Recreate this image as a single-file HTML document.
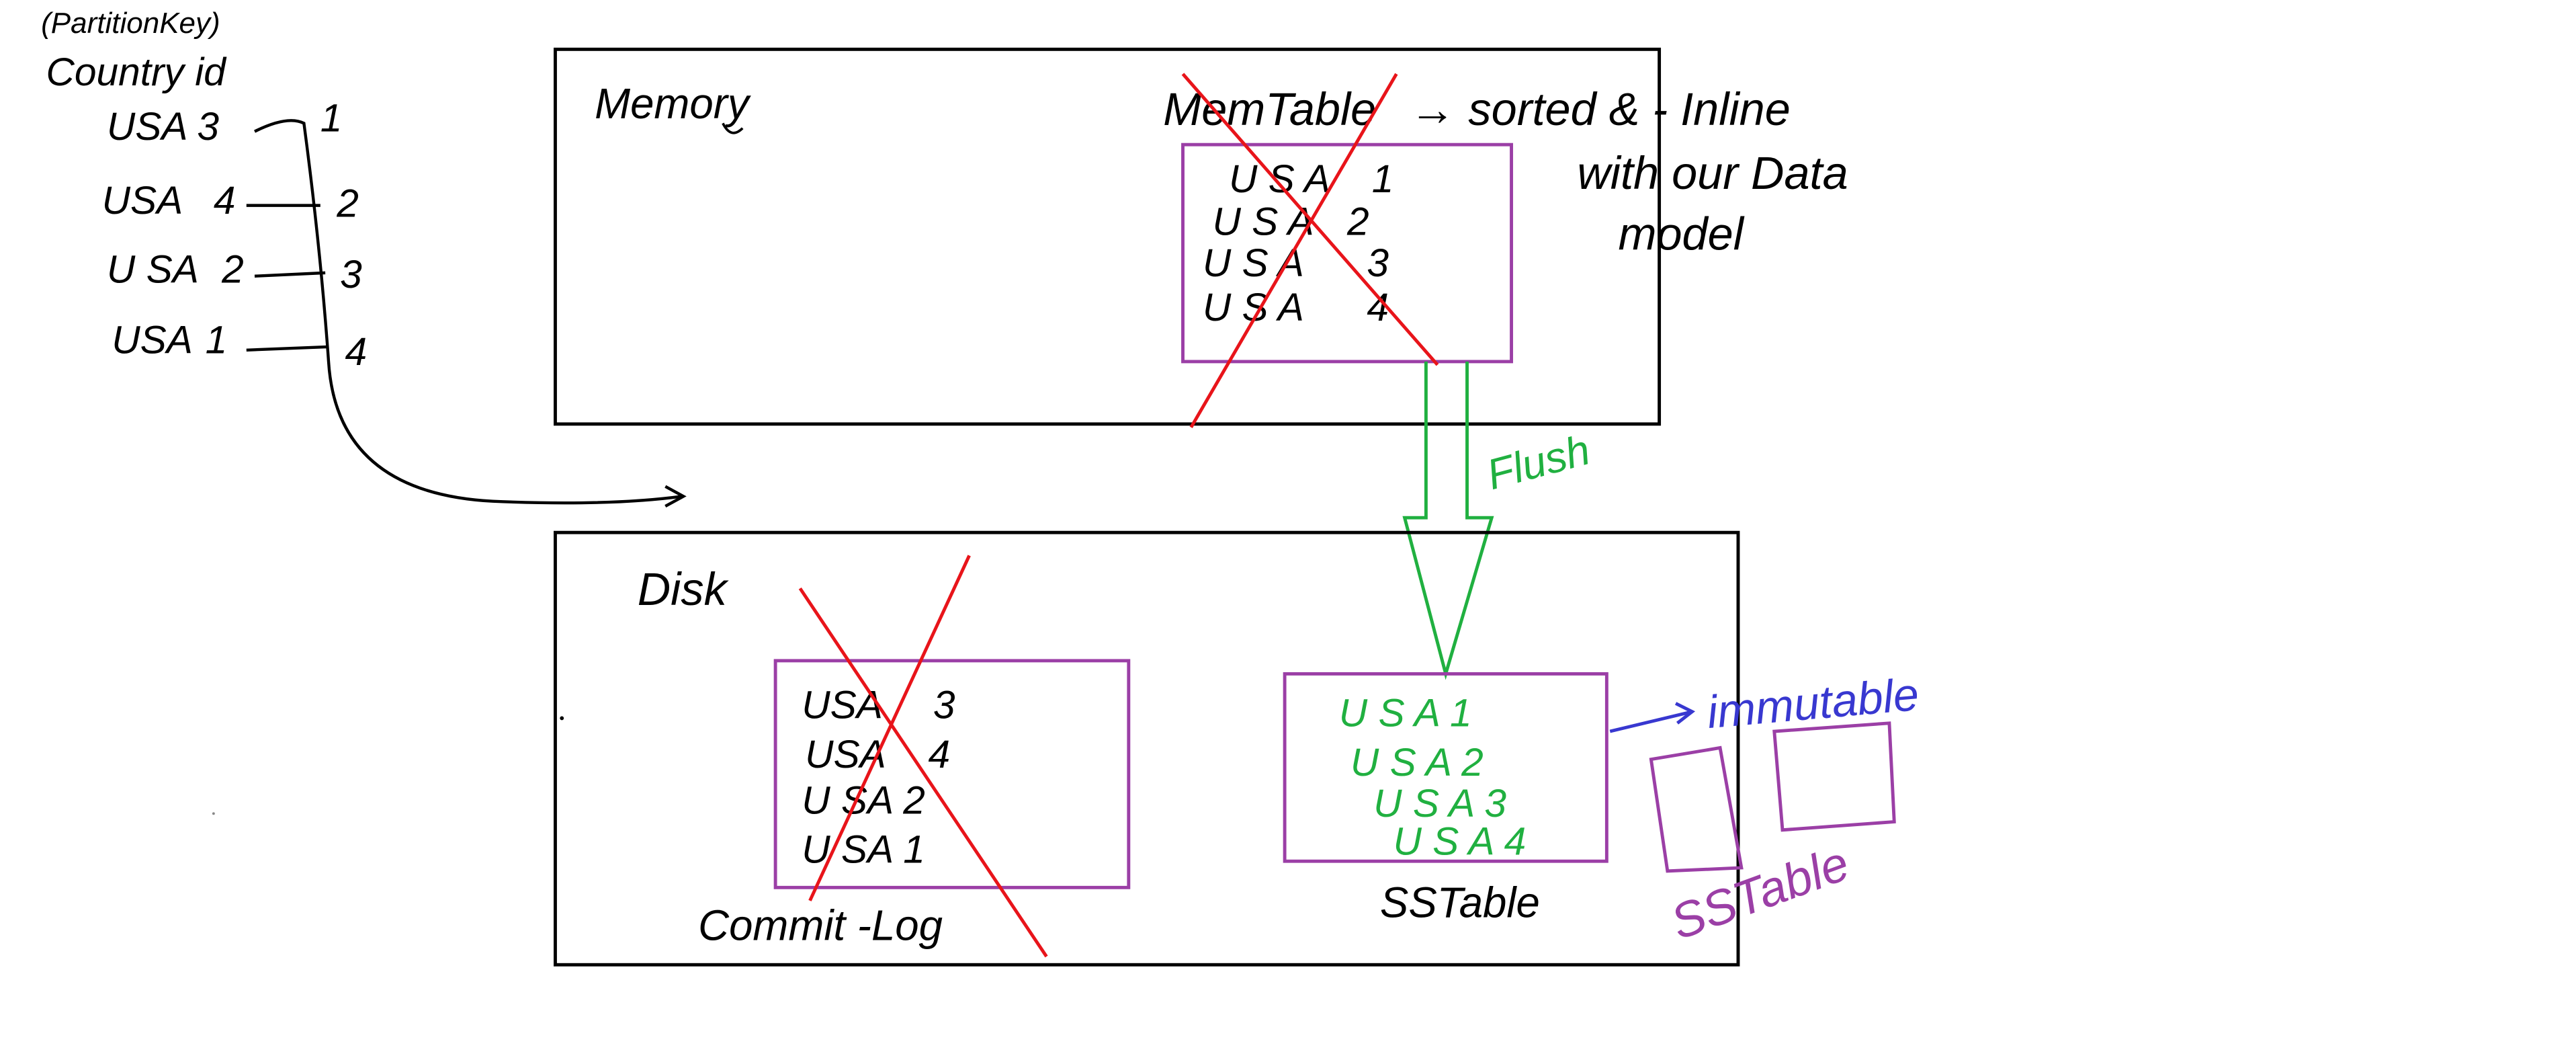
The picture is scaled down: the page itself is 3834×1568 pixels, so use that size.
<!DOCTYPE html>
<html><head><meta charset="utf-8"><style>
html,body{margin:0;padding:0;background:#fff;}
svg{display:block;}
text{font-family:"Liberation Sans",sans-serif;font-style:italic;}
</style></head><body>
<svg width="3834" height="1568" viewBox="0 0 1568 641.3" preserveAspectRatio="none" xmlns="http://www.w3.org/2000/svg">
<rect width="1568" height="642" fill="#fff"/>
<rect x="338" y="30" width="672" height="228" fill="none" stroke="#000" stroke-width="2"/>
<text x="362" y="72" font-size="26">Memory</text>
<path d="M440 75 Q445 85 452 78" fill="none" stroke="#000" stroke-width="1.5"/>
<text x="708" y="76" font-size="28">MemTable</text>
<text x="858" y="76" font-size="28">→ sorted &amp; - Inline</text>
<text x="960" y="115" font-size="28">with our Data</text>
<text x="985" y="152" font-size="28">model</text>
<rect x="720" y="88" width="200" height="132" fill="none" stroke="#9b3fa6" stroke-width="2"/>
<g font-size="24" fill="#000">
<text x="748" y="117">U S A</text><text x="835" y="117">1</text>
<text x="738" y="143">U S A</text><text x="820" y="143">2</text>
<text x="732" y="168">U S A</text><text x="832" y="168">3</text>
<text x="732" y="195">U S A</text><text x="832" y="195">4</text>
</g>
<line x1="720" y1="45" x2="875" y2="222" stroke="#e8141a" stroke-width="2"/>
<line x1="850" y1="45" x2="725" y2="260" stroke="#e8141a" stroke-width="2"/>
<path d="M868 220 L868 315 L855 315 L880 410 L908 315 L893 315 L893 220" fill="none" stroke="#20b040" stroke-width="2"/>
<text x="908" y="298" font-size="26" fill="#20b040" transform="rotate(-15 908 298)">Flush</text>
<rect x="338" y="324" width="720" height="263" fill="none" stroke="#000" stroke-width="2"/>
<circle cx="342" cy="437" r="1.2" fill="#000"/>
<circle cx="130" cy="495" r="0.8" fill="#888"/>
<text x="388" y="368" font-size="28">Disk</text>
<rect x="472" y="402" width="215" height="138" fill="none" stroke="#9b3fa6" stroke-width="2"/>
<g font-size="24" fill="#000">
<text x="488" y="437">USA</text><text x="568" y="437">3</text>
<text x="490" y="467">USA</text><text x="565" y="467">4</text>
<text x="488" y="495">U SA 2</text>
<text x="488" y="525">U SA 1</text>
</g>
<line x1="487" y1="358" x2="637" y2="582" stroke="#e8141a" stroke-width="2"/>
<line x1="590" y1="338" x2="493" y2="548" stroke="#e8141a" stroke-width="2"/>
<text x="425" y="572" font-size="26">Commit -Log</text>
<rect x="782" y="410" width="196" height="114" fill="none" stroke="#9b3fa6" stroke-width="2"/>
<g font-size="24" fill="#20b040">
<text x="815" y="442">U S A 1</text>
<text x="822" y="472">U S A 2</text>
<text x="836" y="497">U  S A 3</text>
<text x="848" y="520">U S A  4</text>
</g>
<text x="840" y="558" font-size="26">SSTable</text>
<line x1="980" y1="445" x2="1030" y2="433" stroke="#3838d0" stroke-width="2"/>
<path d="M1020 428 L1030 433 L1021 440" fill="none" stroke="#3838d0" stroke-width="2"/>
<text x="1040" y="443" font-size="28" fill="#3838d0" transform="rotate(-5 1040 443)">immutable</text>
<path d="M1005 462 L1047 455 L1060 528 L1015 530 Z" fill="none" stroke="#9b3fa6" stroke-width="2"/>
<path d="M1080 445 L1150 440 L1153 500 L1085 505 Z" fill="none" stroke="#9b3fa6" stroke-width="2"/>
<text x="1022" y="572" font-size="30" fill="#9b3fa6" transform="rotate(-20 1022 572)">SSTable</text>
<text x="25" y="20" font-size="18">(PartitionKey)</text>
<text x="28" y="52" font-size="24">Country  id</text>
<g font-size="24">
<text x="65" y="85">USA</text><text x="120" y="85">3</text><text x="195" y="80">1</text>
<text x="62" y="130">USA</text><text x="130" y="130">4</text><text x="205" y="132">2</text>
<text x="65" y="172">U SA</text><text x="135" y="172">2</text><text x="207" y="175">3</text>
<text x="68" y="215">USA</text><text x="125" y="215">1</text><text x="210" y="222">4</text>
</g>
<g fill="none" stroke="#000" stroke-width="1.8">
<path d="M155 80 Q175 70 185 75 Q195 150 200 220 Q205 300 300 305 Q370 308 415 302"/>
<path d="M405 296 L416 302 L405 308"/>
<line x1="150" y1="125" x2="195" y2="125"/>
<line x1="155" y1="168" x2="198" y2="166"/>
<line x1="150" y1="213" x2="200" y2="211"/>
</g>
</svg>
</body></html>
